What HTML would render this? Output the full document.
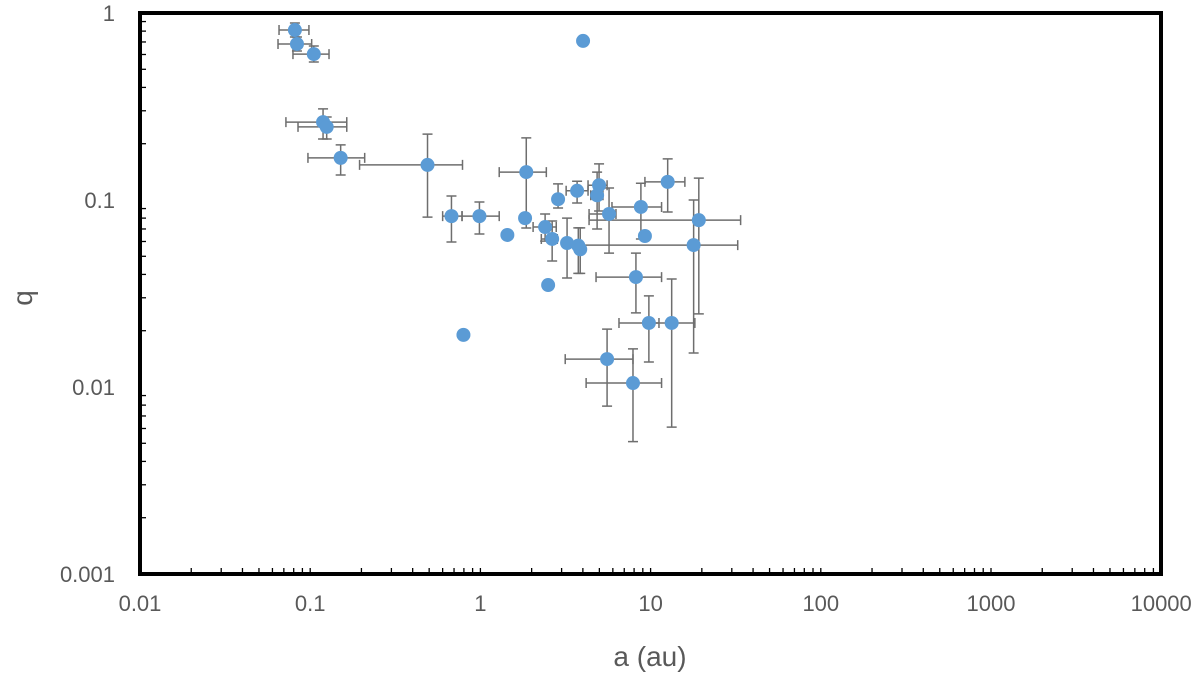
<!DOCTYPE html>
<html><head><meta charset="utf-8"><style>
html,body{margin:0;padding:0;background:#fff;}
svg{display:block;font-family:"Liberation Sans",sans-serif;}
</style></head><body>
<svg id="chart" width="1200" height="678" viewBox="0 0 1200 678">
<g id="grid"></g>
<g id="errs"></g>
<g id="pts"></g>
<rect x="140" y="13" width="1021" height="561" fill="none" stroke="#000" stroke-width="4"/>
<text x="650" y="666" font-size="28" fill="#595959" text-anchor="middle">a (au)</text>
<text x="0" y="0" font-size="28" fill="#595959" text-anchor="middle" transform="translate(32,298) rotate(-90)">q</text>
</svg>
<script>
const xTicks=[0.01,0.1,1,10,100,1000,10000];
const xTickLabels=["0.01","0.1","1","10","100","1000","10000"];
const yTicks=[0.001,0.01,0.1,1];
const yTickLabels=["0.001","0.01","0.1","1"];
// a, q, a-low, a-high, q-low, q-high (null = no bar)
const aVals=[0.0813,0.0836,0.105,0.119,0.125,0.151,0.489,0.676,0.987,1.44,1.86,1.83,2.86,3.70,4.98,4.85,5.70,8.77,12.6,19.2,9.26,17.9,2.40,2.64,3.23,3.76,3.86,2.50,8.20,9.77,13.3,5.55,7.88,0.795,4.01];
const qVals=[0.811,0.683,0.603,0.261,0.246,0.168,0.154,0.082,0.082,0.065,0.141,0.080,0.101,0.112,0.120,0.106,0.0842,0.0918,0.125,0.078,0.0642,0.0574,0.0717,0.0619,0.0589,0.057,0.0545,0.0351,0.0387,0.022,0.022,0.0141,0.0105,0.019,0.709];
const aLow=[0.0656,0.0647,0.0792,0.072,0.0848,0.097,0.195,0.60,0.78,null,1.29,null,null,3.19,4.29,4.45,4.35,5.93,9.26,4.35,null,3.80,2.04,2.28,null,null,null,null,4.78,6.52,10.0,3.15,4.18,null,null];
const aHigh=[0.0983,0.102,0.129,0.164,0.164,0.209,0.785,0.78,1.29,null,2.44,null,null,4.29,5.55,5.25,6.26,11.6,15.9,33.8,null,32.5,2.79,2.83,null,null,null,null,11.6,11.2,18.2,7.88,11.6,null,null];
const qLow=[0.744,0.626,0.547,0.212,0.212,0.136,0.081,0.0596,0.0658,null,0.0708,null,0.0906,0.0964,0.0873,0.070,0.052,0.0619,0.0863,0.0246,null,0.0152,0.0603,0.0472,0.0383,0.0405,0.0405,null,0.0249,0.0136,0.0061,0.0079,0.0051,null,null];
const qHigh=[0.884,0.744,0.666,0.307,0.278,0.197,0.225,0.105,0.0976,null,0.215,null,0.122,0.126,0.156,0.141,0.116,0.123,0.166,0.131,null,0.100,0.0842,0.0772,0.080,0.071,0.071,null,0.052,0.0307,0.0378,0.0204,0.016,null,null];

const X0=140,PXD=170.2,Y0=13,PYD=187;
const xs=v=>X0+PXD*(Math.log10(v)+2);
const ys=v=>Y0-PYD*Math.log10(v);
const NS="http://www.w3.org/2000/svg";
function mk(tag,attrs,parent){const e=document.createElementNS(NS,tag);for(const k in attrs)e.setAttribute(k,attrs[k]);parent.appendChild(e);return e;}
const grid=document.getElementById('grid'),errs=document.getElementById('errs'),pts=document.getElementById('pts');
for(let i=0;i<xTicks.length;i++){
  const x=xs(xTicks[i]);
  const t=mk('text',{x:x,y:611,'font-size':22,fill:'#595959','text-anchor':'middle'},grid);
  t.textContent=xTickLabels[i];
  
  
  if(i<xTicks.length-1){for(let m=2;m<=10;m++){const xm=xs(xTicks[i]*m);
    const l=mk('line',{x1:xm,x2:xm,y1:574,y2:568,stroke:'#000','stroke-width':1.3},grid);
    
    }}
}
for(let i=0;i<yTicks.length;i++){
  const y=ys(yTicks[i]);
  const t=mk('text',{x:115,y:y+8,'font-size':22,fill:'#595959','text-anchor':'end'},grid);
  t.textContent=yTickLabels[i];
  
  
  if(i<yTicks.length-1){for(let m=2;m<=9;m++){const ym=ys(yTicks[i]*m);
    const l=mk('line',{x1:140,x2:146,y1:ym,y2:ym,stroke:'#000','stroke-width':1.3},grid);
    
    }}
}
const ec='#6e6e6e';
for(let i=0;i<aVals.length;i++){
  const cx=xs(aVals[i]),cy=ys(qVals[i]);
  if(aLow[i]!=null){const x1=xs(aLow[i]),x2=xs(aHigh[i]);
    const g=mk('path',{d:`M${x1},${cy}H${x2}M${x1},${cy-5}V${cy+5}M${x2},${cy-5}V${cy+5}`,stroke:ec,'stroke-width':1.5,fill:'none'},errs);
    
    }
  if(qLow[i]!=null){const y1=ys(qHigh[i]),y2=ys(qLow[i]);
    const g=mk('path',{d:`M${cx},${y1}V${y2}M${cx-5},${y1}H${cx+5}M${cx-5},${y2}H${cx+5}`,stroke:ec,'stroke-width':1.5,fill:'none'},errs);
    
    }
  const c=mk('circle',{cx:cx,cy:cy,r:7,fill:'#5b9bd5'},pts);
  
  
}
</script>
</body></html>
